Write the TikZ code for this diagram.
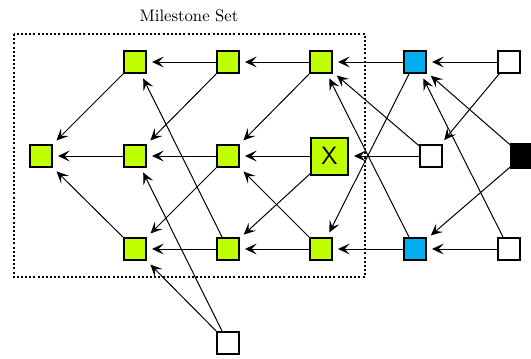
\documentclass[tikz,border=0pt]{standalone}
\usepackage{tikz}
\usetikzlibrary{arrows.meta}
\definecolor{milegreen}{RGB}{191,255,0}
\definecolor{frontblue}{RGB}{0,174,239}

\begin{document}
\begin{tikzpicture}[x=0.6pt, y=-0.6pt, >={Stealth[length=7pt, width=6.5pt, inset=3pt]},
  blk/.style={draw, line width=1.2pt, minimum size=13.2pt, inner sep=0pt},
  mile/.style={blk, fill=milegreen},
  front/.style={blk, fill=frontblue},
  open/.style={blk, fill=white},
  dep/.style={->, line width=0.6pt, shorten >=3pt}]

\useasboundingbox (0,0) rectangle (531,358);

% units: 1 = 0.6pt, y grows downwards; rows at 62 / 156 / 249

%% ── milestone set frame ──────────────────────────────────────────
\draw[line width=1.2pt, dash pattern=on 1.2pt off 1.3pt] (14,34) rectangle (365,277);
\node[font=\normalsize] (setlabel) at (189,16) {Milestone Set};

%% ── top row ──────────────────────────────────────────────────────
\node[mile]  (t1) at (135,62) {};
\node[mile]  (t2) at (228,62) {};
\node[mile]  (t3) at (321,62) {};
\node[front] (t4) at (415,62) {};
\node[open]  (t5) at (509,62) {};

%% ── middle row ───────────────────────────────────────────────────
\node[mile]  (m0) at (41,156) {};
\node[mile]  (m1) at (135,156) {};
\node[mile]  (m2) at (228,156) {};
\node[mile, minimum size=22.2pt, font=\sffamily\fontsize{15}{15}\selectfont] (mx) at (329.5,156) {X};
\node[open]  (m4) at (431,156) {};
\node[blk, fill=black, minimum size=14.4pt] (m5) at (523,156) {};

%% ── bottom row ───────────────────────────────────────────────────
\node[mile]  (b1) at (135,249) {};
\node[mile]  (b2) at (228,249) {};
\node[mile]  (b3) at (321,249) {};
\node[front] (b4) at (415,249) {};
\node[open]  (b5) at (509,249) {};
\node[open]  (w)  at (228,343) {};

%% ── horizontal dependencies ──────────────────────────────────────
\draw[dep] (t2) -- (t1);
\draw[dep] (t3) -- (t2);
\draw[dep] (t4) -- (t3);
\draw[dep] (t5) -- (t4);
\draw[dep] (m1) -- (m0);
\draw[dep] (m2) -- (m1);
\draw[dep] (mx) -- (m2);
\draw[dep] (m4) -- (mx);
\draw[dep] (b2) -- (b1);
\draw[dep] (b3) -- (b2);
\draw[dep] (b4) -- (b3);
\draw[dep] (b5) -- (b4);

%% ── cross dependencies ───────────────────────────────────────────
\draw[dep] (t1) -- (m0);
\draw[dep] (b1) -- (m0);
\draw[dep] (t2) -- (m1);
\draw[dep] (w)  -- (m1);
\draw[dep] (w)  -- (b1);
\draw[dep] (m2) -- (b1);
\draw[dep] (b2) -- (t1);
\draw[dep] (t3) -- (m2);
\draw[dep] (b3) -- (m2);
\draw[dep] (mx) -- (b2);
\draw[dep] (t4) -- (b3);
\draw[dep] (b4) -- (t3);
\draw[dep] (m4) -- (t3);
\draw[dep] (t5) -- (m4);
\draw[dep] (b5) -- (t4);
\draw[dep] (m5) -- (t4);
\draw[dep] (m5) -- (b4);

\end{tikzpicture}
\end{document}
